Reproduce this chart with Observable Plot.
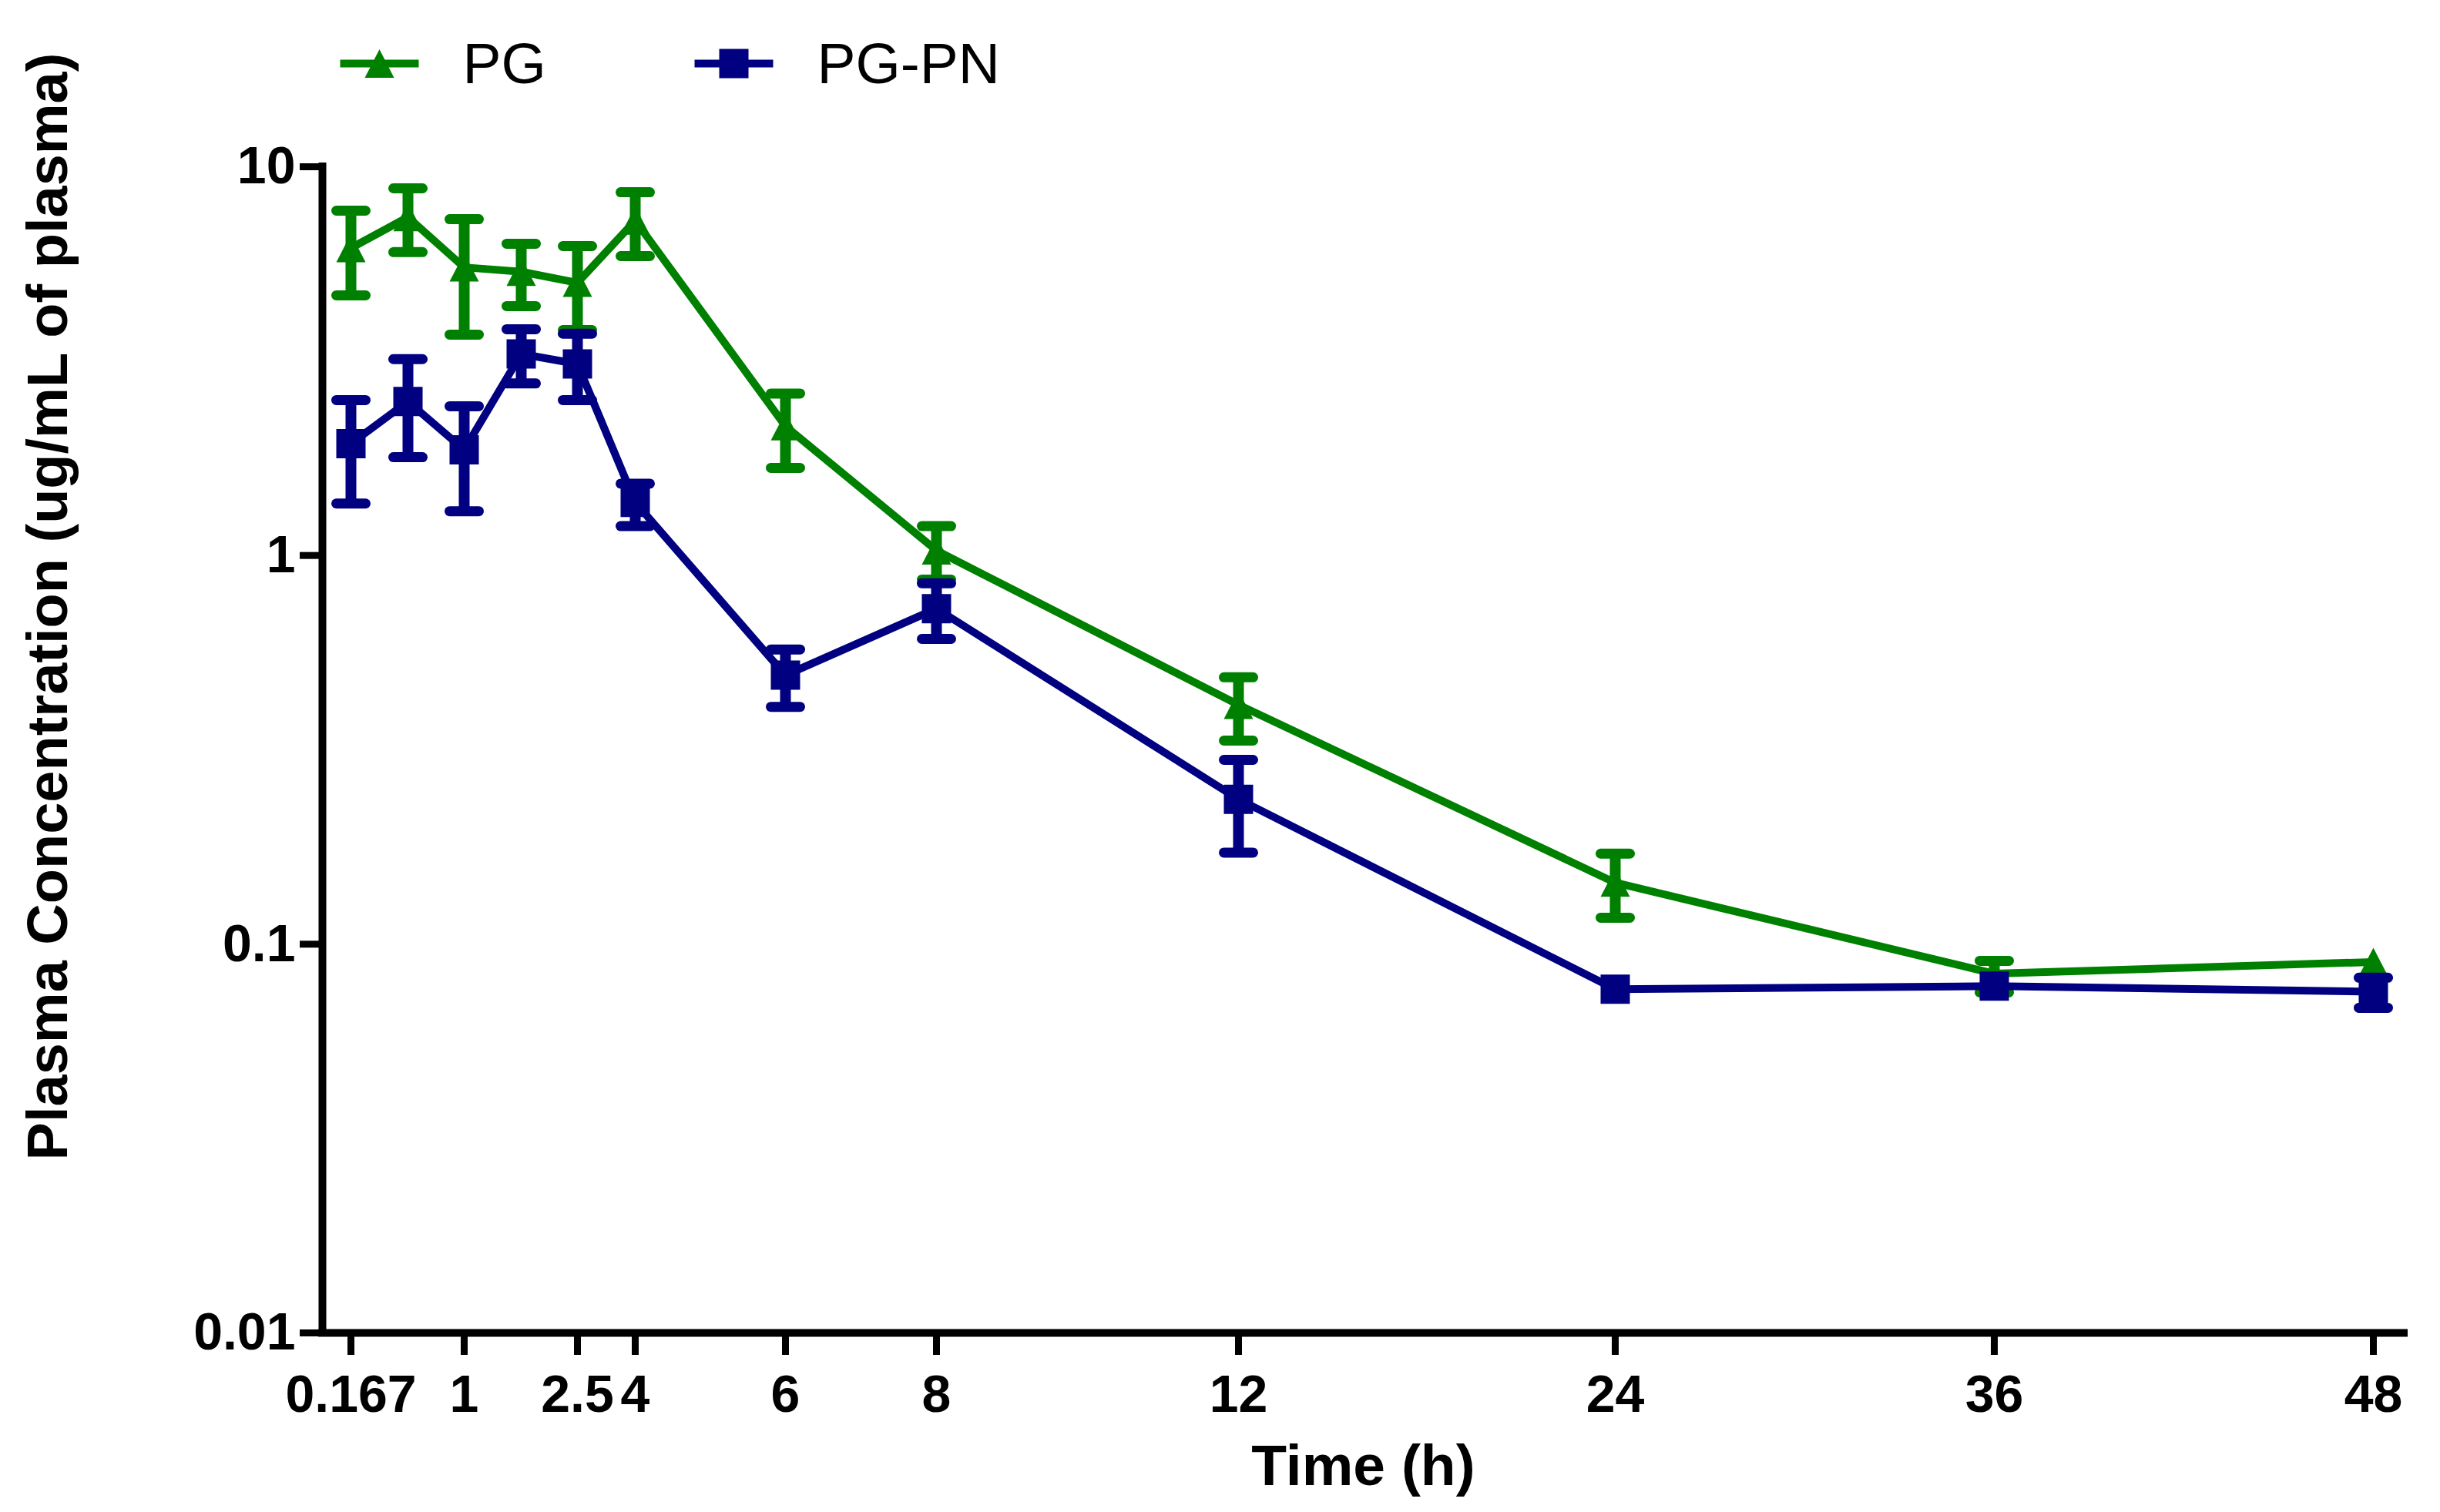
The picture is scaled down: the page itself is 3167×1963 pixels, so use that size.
<!DOCTYPE html>
<html>
<head>
<meta charset="utf-8">
<script src="https://cdn.jsdelivr.net/npm/d3@7"></script>
<script src="https://cdn.jsdelivr.net/npm/@observablehq/plot@0.6"></script>
<style>
  body { margin: 0; background: #fff; }
</style>
</head>
<body>
<div id="chart"></div>
<script>
// sampling times (h) and axis ticks
const times = [0.167, 0.5, 1, 2, 2.5, 4, 6, 8, 12, 24, 36, 48];
const xTicks = [0.167, 1, 2.5, 4, 6, 8, 12, 24, 36, 48];
const yTicks = [0.01, 0.1, 1, 10];
const seriesNames = ["PG", "PG-PN"];

// PG: mean and ends of the error bar (ug/mL), null = no bar drawn
const pgMean = [6.18, 7.42, 5.51, 5.37, 5.03, 7.27, 2.15, 1.03, 0.413, 0.144, 0.084, 0.090];
const pgLow  = [4.67, 6.03, 3.70, 4.38, 3.80, 5.89, 1.68, 0.867, 0.334, 0.117, 0.0752, null];
const pgHigh = [7.71, 8.80, 7.33, 6.34, 6.25, 8.60, 2.61, 1.19, 0.486, 0.171, 0.0906, null];

// PG-PN
const pnMean = [1.94, 2.49, 1.87, 3.30, 3.11, 1.37, 0.492, 0.730, 0.236, 0.0766, 0.078, 0.0755];
const pnLow  = [1.36, 1.79, 1.30, 2.77, 2.51, 1.19, 0.408, 0.610, 0.172, null, null, 0.0686];
const pnHigh = [2.51, 3.20, 2.42, 3.82, 3.72, 1.53, 0.573, 0.848, 0.298, null, null, 0.082];

(function() {
  const colors = ["#008000", "#000080"];
  const font = "'Liberation Sans', Arial, Helvetica, sans-serif";

  // segmented time axis (as in the original): pixel position of each break
  const xBreaks = [0, ...times];
  const xPixels = [418, 455, 529, 602, 676, 749, 824, 1019, 1215, 1607, 2096, 2588, 3080];

  // symbols sized so that sqrt(size) is the width
  const capSymbol = {
    draw(context, size) {
      const w = Math.sqrt(size) / 2;
      context.moveTo(-w, 0);
      context.lineTo(w, 0);
    }
  };
  const triangleSymbol = {
    draw(context, size) {
      const w = Math.sqrt(size) / 2, h = w * 0.97;
      context.moveTo(0, -h);
      context.lineTo(w, h);
      context.lineTo(-w, h);
      context.closePath();
    }
  };
  const markerR = 38 / Math.sqrt(Math.PI);
  const legendLineR = 102 / Math.sqrt(Math.PI);

  function rows(mean, low, high, name) {
    return times.map((t, i) => ({time: t, mean: mean[i], low: low[i], high: high[i], series: name}));
  }

  function seriesMarks(data, color, symbol) {
    const bars = data.filter(d => d.low != null && d.high != null);
    return [
      Plot.line(data, {x: "time", y: "mean", stroke: color, strokeWidth: 10, strokeLinejoin: "round"}),
      Plot.ruleX(bars, {x: "time", y1: "low", y2: "high", stroke: color, strokeWidth: 14}),
      Plot.dot(bars, {x: "time", y: "low", symbol: capSymbol, r: markerR, fill: "none", stroke: color, strokeWidth: 13, strokeLinecap: "round"}),
      Plot.dot(bars, {x: "time", y: "high", symbol: capSymbol, r: markerR, fill: "none", stroke: color, strokeWidth: 13, strokeLinecap: "round"}),
      Plot.dot(data, {x: "time", y: "mean", symbol, r: markerR, fill: color, stroke: "none"})
    ];
  }

  const symbols = [triangleSymbol, "square"];
  const legendMarks = seriesNames.flatMap((name, i) => [
    Plot.dot([name], {frameAnchor: "top-left", dx: 74 + 460 * i, dy: -134, symbol: capSymbol, r: legendLineR, fill: "none", stroke: colors[i], strokeWidth: 10}),
    Plot.dot([name], {frameAnchor: "top-left", dx: 74 + 460 * i, dy: -134, symbol: symbols[i], r: markerR, fill: colors[i], stroke: "none"}),
    Plot.text([name], {frameAnchor: "top-left", dx: 182 + 460 * i, dy: -109, text: d => d, textAnchor: "start", lineAnchor: "bottom", fontSize: 75})
  ]);

  const plot = Plot.plot({
    width: 3167,
    height: 1963,
    marginLeft: 418,
    marginRight: 47,
    marginTop: 216,
    marginBottom: 233,
    style: {fontFamily: font, background: "white", overflow: "visible"},
    x: {type: "linear", domain: xBreaks, range: xPixels, axis: null},
    y: {type: "log", domain: [0.01, 10], axis: null},
    marks: [
      Plot.axisY({ticks: yTicks, tickFormat: d => String(d), tickSize: 29, tickPadding: 6, strokeWidth: 9, fontSize: 68, fontWeight: "bold", label: null}),
      Plot.axisX({ticks: xTicks, tickFormat: d => String(d), tickSize: 29, tickPadding: 25, strokeWidth: 9, fontSize: 68, fontWeight: "bold", label: null}),
      Plot.ruleX([0], {strokeWidth: 10, strokeLinecap: "square"}),
      Plot.ruleY([0.01], {strokeWidth: 10, strokeLinecap: "square"}),
      ...seriesMarks(rows(pgMean, pgLow, pgHigh, "PG"), colors[0], triangleSymbol),
      ...seriesMarks(rows(pnMean, pnLow, pnHigh, "PG-PN"), colors[1], "square"),
      ...legendMarks,
      Plot.text(["Plasma Concentration (ug/mL of plasma)"], {frameAnchor: "left", dx: -332, dy: -186, rotate: -90, text: d => d, textAnchor: "middle", lineAnchor: "bottom", fontSize: 74, fontWeight: "bold"}),
      Plot.text(["Time (h)"], {frameAnchor: "bottom", dy: 197, text: d => d, lineAnchor: "bottom", fontSize: 75, fontWeight: "bold"})
    ]
  });

  document.getElementById("chart").appendChild(plot);
})();
</script>
</body>
</html>
